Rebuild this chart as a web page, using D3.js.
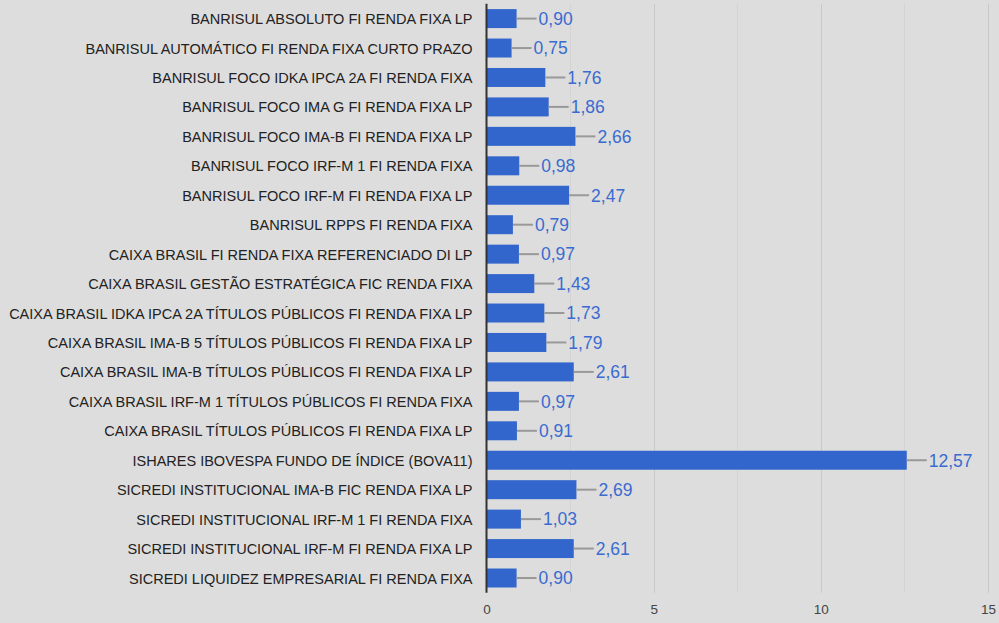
<!DOCTYPE html>
<html>
<head>
<meta charset="utf-8">
<script src="https://cdn.jsdelivr.net/npm/d3@7"></script>
<style>
body { margin: 0; background: #dddddd; }
svg { display: block; font-family: "Liberation Sans", Arial, sans-serif; }
</style>
</head>
<body>
<svg id="chart"></svg>
<script>
var fundos = [
    "BANRISUL ABSOLUTO FI RENDA FIXA LP",
    "BANRISUL AUTOMÁTICO FI RENDA FIXA CURTO PRAZO",
    "BANRISUL FOCO IDKA IPCA 2A FI RENDA FIXA",
    "BANRISUL FOCO IMA G FI RENDA FIXA LP",
    "BANRISUL FOCO IMA-B FI RENDA FIXA LP",
    "BANRISUL FOCO IRF-M 1 FI RENDA FIXA",
    "BANRISUL FOCO IRF-M FI RENDA FIXA LP",
    "BANRISUL RPPS FI RENDA FIXA",
    "CAIXA BRASIL FI RENDA FIXA REFERENCIADO DI LP",
    "CAIXA BRASIL GESTÃO ESTRATÉGICA FIC RENDA FIXA",
    "CAIXA BRASIL IDKA IPCA 2A TÍTULOS PÚBLICOS FI RENDA FIXA LP",
    "CAIXA BRASIL IMA-B 5 TÍTULOS PÚBLICOS FI RENDA FIXA LP",
    "CAIXA BRASIL IMA-B TÍTULOS PÚBLICOS FI RENDA FIXA LP",
    "CAIXA BRASIL IRF-M 1 TÍTULOS PÚBLICOS FI RENDA FIXA",
    "CAIXA BRASIL TÍTULOS PÚBLICOS FI RENDA FIXA LP",
    "ISHARES IBOVESPA FUNDO DE ÍNDICE (BOVA11)",
    "SICREDI INSTITUCIONAL IMA-B FIC RENDA FIXA LP",
    "SICREDI INSTITUCIONAL IRF-M 1 FI RENDA FIXA",
    "SICREDI INSTITUCIONAL IRF-M FI RENDA FIXA LP",
    "SICREDI LIQUIDEZ EMPRESARIAL FI RENDA FIXA"
];
var rentab = [0.90, 0.75, 1.76, 1.86, 2.66, 0.98, 2.47, 0.79, 0.97, 1.43,
              1.73, 1.79, 2.61, 0.97, 0.91, 12.57, 2.69, 1.03, 2.61, 0.90];
var ticks = [0, 5, 10, 15];
var gridVals = [2.5, 5, 7.5, 10, 12.5, 15];

var W = 999, H = 623;
var mLeft = 486.5, mRight = 988, mTop = 3.8, mBottom = 592.8;

var svg = d3.select("#chart").attr("width", W).attr("height", H);

var x = d3.scaleLinear().domain([0, 15]).range([mLeft, mRight]);
var y = d3.scaleBand().domain(fundos).range([mTop, mBottom]).paddingInner(0.355).paddingOuter(0.18);

var fmt = function(v) { return v.toFixed(2).replace(".", ","); };

// grade
svg.append("g").selectAll("line")
    .data(gridVals)
    .enter().append("line")
    .attr("x1", function(d) { return Math.round(x(d)) + 0.5; })
    .attr("x2", function(d) { return Math.round(x(d)) + 0.5; })
    .attr("y1", mTop).attr("y2", mBottom)
    .attr("stroke", function(d) { return d % 5 == 0 ? "#c9c9c9" : "#d3d3d3"; })
    .attr("stroke-width", 1);

// barras
var data = fundos.map(function(f, i) { return { nome: f, v: rentab[i] }; });

svg.append("g").selectAll("rect")
    .data(data)
    .enter().append("rect")
    .attr("x", x(0))
    .attr("y", function(d) { return y(d.nome); })
    .attr("width", function(d) { return x(d.v) - x(0); })
    .attr("height", y.bandwidth())
    .attr("fill", "#3366cc");

// linhas guia
svg.append("g").selectAll("line")
    .data(data)
    .enter().append("line")
    .attr("x1", function(d) { return x(d.v); })
    .attr("x2", function(d) { return x(d.v) + 20; })
    .attr("y1", function(d) { return y(d.nome) + y.bandwidth() / 2; })
    .attr("y2", function(d) { return y(d.nome) + y.bandwidth() / 2; })
    .attr("stroke", "#999999")
    .attr("stroke-width", 2);

// valores
svg.append("g").selectAll("text")
    .data(data)
    .enter().append("text")
    .attr("x", function(d) { return x(d.v) + 22; })
    .attr("y", function(d) { return y(d.nome) + y.bandwidth() / 2; })
    .attr("dy", "0.36em")
    .attr("fill", "#3a6bd0")
    .style("font-size", "17.5px")
    .text(function(d) { return fmt(d.v); });

// rótulos das categorias
var yAxis = svg.append("g")
    .attr("transform", "translate(" + (mLeft - 14) + ",0)")
    .call(d3.axisLeft(y).tickSize(0).tickPadding(0));
yAxis.select(".domain").remove();
yAxis.selectAll("text")
    .attr("fill", "#222222")
    .attr("dy", "0.38em")
    .style("font-size", "14.5px")
    .style("font-family", "'Liberation Sans', Arial, sans-serif");

// eixo zero
svg.append("line")
    .attr("x1", x(0)).attr("x2", x(0))
    .attr("y1", mTop).attr("y2", mBottom)
    .attr("stroke", "#333333")
    .attr("stroke-width", 2);

// eixo x
var xAxis = svg.append("g")
    .attr("transform", "translate(0," + mBottom + ")")
    .call(d3.axisBottom(x).tickValues(ticks).tickSize(0).tickPadding(12)
        .tickFormat(function(d) { return d; }));
xAxis.select(".domain").remove();
xAxis.selectAll("text")
    .attr("fill", "#444444")
    .style("font-size", "13.5px")
    .style("font-family", "'Liberation Sans', Arial, sans-serif");
</script>
</body>
</html>
